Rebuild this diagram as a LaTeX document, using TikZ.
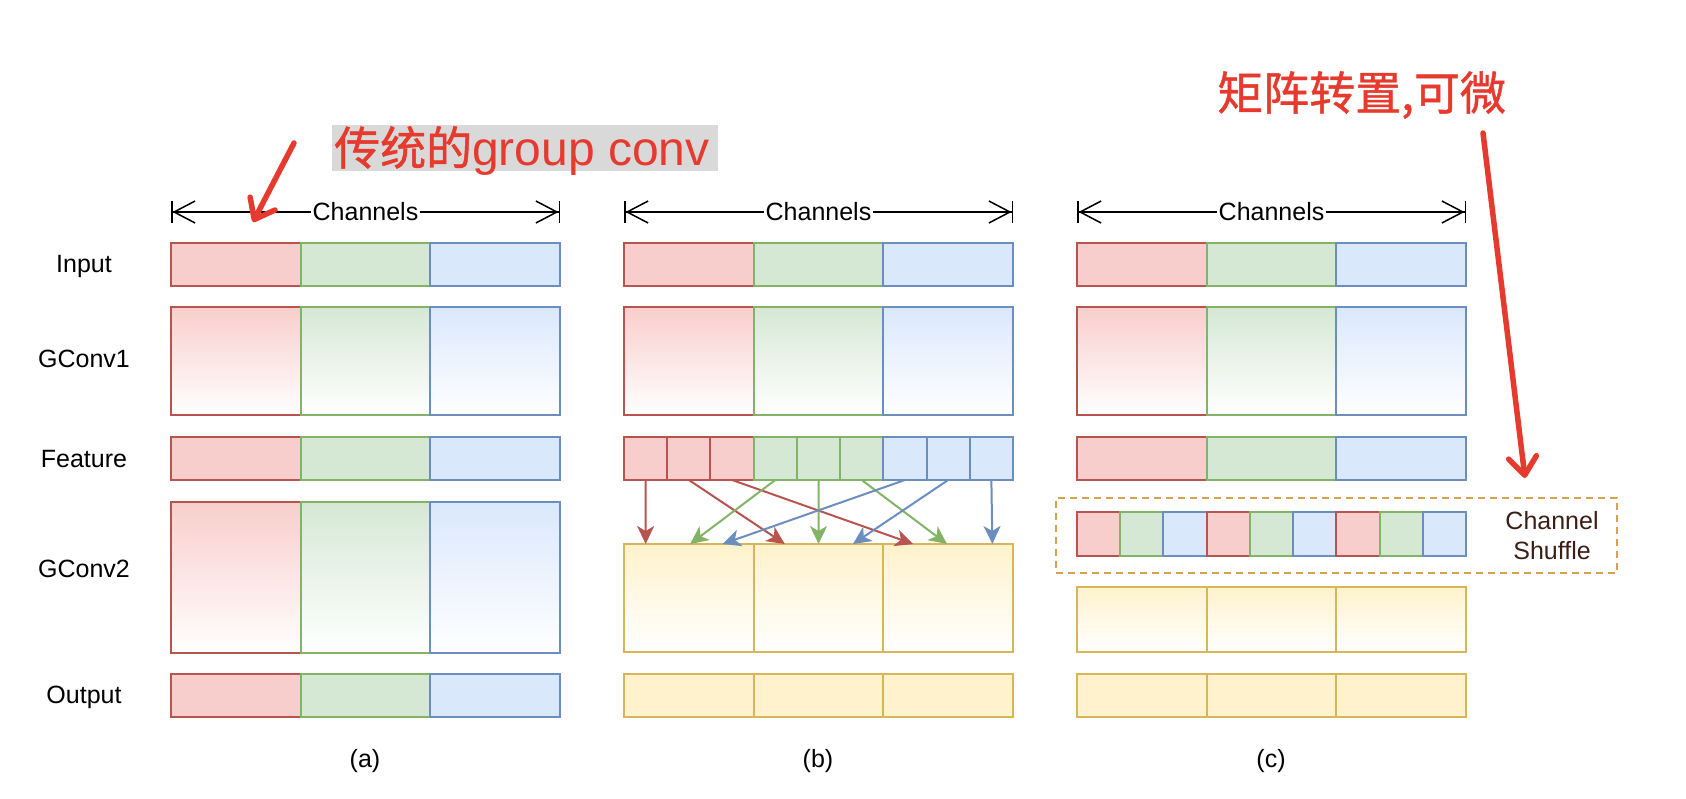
\documentclass[tikz,border=0pt]{standalone}
\usepackage{fontspec}
\setmainfont{Liberation Sans}
\newfontfamily\cjkfont[FakeBold=1]{Noto Sans CJK SC}
\usetikzlibrary{arrows.meta,calc}

\definecolor{redfill}{HTML}{F8CECC}
\definecolor{redline}{HTML}{B85450}
\definecolor{greenfill}{HTML}{D5E8D4}
\definecolor{greenline}{HTML}{82B366}
\definecolor{bluefill}{HTML}{DAE8FC}
\definecolor{blueline}{HTML}{6C8EBF}
\definecolor{yelfill}{HTML}{FFF2CC}
\definecolor{yelline}{HTML}{D6B656}
\definecolor{dashline}{HTML}{D6A24E}
\definecolor{notered}{HTML}{E53A2D}
\definecolor{notegray}{HTML}{D9D9D9}
\definecolor{shuftext}{HTML}{3B1E16}

\newcommand{\lblfont}{\fontsize{25}{30}\selectfont}

\tikzset{
  cell/.style={rectangle,line width=2pt,inner sep=0pt,outer sep=0pt,anchor=north west,minimum width=129.7pt},
  grp/.style={cell,draw=#1line,fill=#1fill},
  grpgrad/.style={cell,draw=#1line,top color=#1fill,bottom color=white},
  rowlbl/.style={anchor=base,inner sep=0pt,font=\lblfont},
  chlbl/.style={fill=white,inner sep=1.5pt,font=\lblfont},
  dimline/.style={line width=1.5pt,{Bar[width=22pt]Straight Barb[length=21pt,width=22pt]}-{Straight Barb[length=21pt,width=22pt]Bar[width=22pt]}},
  flow/.style={line width=2pt,-{Stealth[length=18pt,width=17pt,inset=5pt]}},
  notearrow/.style={draw=notered,line width=5.5pt,line cap=round,-{Straight Barb[length=18pt,width=28pt,round]}}
}

\begin{document}
\begin{tikzpicture}[x=1pt,y=-1pt]
\useasboundingbox (0,0) rectangle (1686,798);

% row names
\node[rowlbl] (lin) at (84,272) {Input};
\node[rowlbl] (lgc1) at (84,367) {GConv1};
\node[rowlbl] (lft) at (84,467) {Feature};
\node[rowlbl] (lgc2) at (84,577) {GConv2};
\node[rowlbl] (lout) at (84,703) {Output};

% input, GConv1 and channel arrows in all three columns
\foreach \col/\cx in {a/171,b/624,c/1077}{
  \coordinate (dl\col) at (\cx,212);
  \coordinate (dr\col) at (\cx+389,212);
  \draw[dimline] (dl\col) -- (dr\col);
  \node[chlbl] (ch\col) at ($(dl\col)!0.5!(dr\col)$) {Channels};
  \foreach \clr [count=\i from 0] in {red,green,blue}{
    \node[grp=\clr,minimum height=43pt] (in\col\i) at (\cx+\i*129.7,243) {};
    \node[grpgrad=\clr,minimum height=108pt] (gc\col\i) at (\cx+\i*129.7,307) {};
  }
}

% column (a)
\foreach \clr [count=\i from 0] in {red,green,blue}{
  \node[grp=\clr,minimum height=43pt] (fta\i) at (171+\i*129.7,437) {};
  \node[grpgrad=\clr,minimum height=151pt] (gca2\i) at (171+\i*129.7,502) {};
  \node[grp=\clr,minimum height=43pt] (outa\i) at (171+\i*129.7,674) {};
}

% column (b)
\foreach \clr [count=\i from 1] in {red,red,red,green,green,green,blue,blue,blue}
  \node[grp=\clr,minimum width=43.22pt,minimum height=43pt] (fb\i) at (624+\i*43.22-43.22,437) {};
\foreach \i in {1,2,3}{
  \node[grpgrad=yel,minimum height=108pt] (yb\i) at (624+\i*129.7-129.7,544) {};
  \node[grp=yel,minimum height=43pt] (outb\i) at (624+\i*129.7-129.7,674) {};
}
\foreach \s/\t/\f/\clr in {1/1/0.167/red,2/2/0.24/red,3/3/0.23/red,4/1/0.51/green,5/2/0.5/green,6/3/0.49/green,7/1/0.76/blue,8/2/0.765/blue,9/3/0.84/blue}
  \draw[flow,draw=\clr line,fill=\clr line] (fb\s.south) -- ($(yb\t.north west)!\f!(yb\t.north east)$);

% column (c)
\foreach \clr [count=\i from 0] in {red,green,blue}
  \node[grp=\clr,minimum height=43pt] (ftc\i) at (1077+\i*129.7,437) {};
\node[draw=dashline,line width=2pt,dash pattern=on 7pt off 5pt,inner sep=0pt,outer sep=0pt,
  anchor=north west,minimum width=561pt,minimum height=75pt] (shufbox) at (1056,498) {};
\foreach \clr [count=\i from 1] in {red,green,blue,red,green,blue,red,green,blue}
  \node[grp=\clr,minimum width=43.22pt,minimum height=44pt] (sc\i) at (1077+\i*43.22-43.22,512) {};
\node[align=center,text=shuftext,font=\lblfont,inner sep=0pt] (shuflbl) at (1552,536) {Channel\\Shuffle};
\foreach \i in {1,2,3}{
  \node[grpgrad=yel,minimum height=65pt] (yc\i) at (1077+\i*129.7-129.7,587) {};
  \node[grp=yel,minimum height=43pt] (outc\i) at (1077+\i*129.7-129.7,674) {};
}

% captions
\node[font=\lblfont] (capa) at (365,761) {(a)};
\node[font=\lblfont] (capb) at (818,761) {(b)};
\node[font=\lblfont] (capc) at (1271,761) {(c)};

% notes
\node[fill=notegray,inner sep=0pt,anchor=north west,minimum width=386pt,minimum height=46pt] (gcbox) at (332,125) {};
\node[anchor=base west,inner sep=0pt,text=notered] (gctext) at (334,165)
  {{\cjkfont\fontsize{46}{50}\selectfont 传统的}{\fontsize{48}{50}\selectfont group conv}};
\coordinate (gcfrom) at (294,143);
\coordinate (gcto) at (253,222);
\draw[notearrow] (gcfrom) -- (gcto);

\node[anchor=base west,inner sep=0pt,text=notered,font=\cjkfont\fontsize{46}{50}\selectfont] (trtext) at (1217,110) {矩阵转置,可微};
\coordinate (trfrom) at (1483,133);
\coordinate (trto) at (1525,478);
\draw[notearrow] (trfrom) -- (trto);
\end{tikzpicture}
\end{document}
